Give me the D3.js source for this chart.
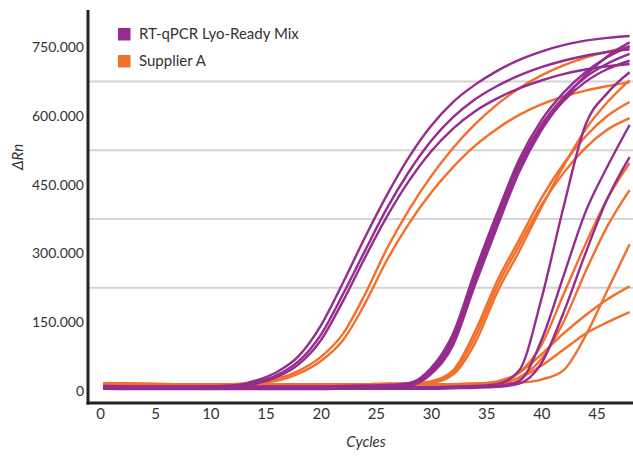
<!DOCTYPE html>
<html><head><meta charset="utf-8">
<script src="https://cdn.jsdelivr.net/npm/d3@7"></script>
<style>
html,body{margin:0;padding:0;background:#fff;}
svg{display:block;font-family:Lato,"Open Sans",sans-serif;}
</style></head>
<body><svg id="chart" width="633" height="458"></svg>
<script>
// cycles at which values are read (x)
const cycles = [0.3, 4, 8, 12, 14, 16, 18, 20, 22, 24, 26, 28, 30, 32, 34, 36, 38, 40, 42, 44, 46, 48];
const xTicks = [0, 5, 10, 15, 20, 25, 30, 35, 40, 45];
const yTicks = [0, 150, 300, 450, 600, 750];          // thousands
const gridValues = [225, 375, 525, 675];              // thousands
const seriesNames = ["RT-qPCR Lyo-Ready Mix", "Supplier A"];

// ΔRn values in thousands, one array per well
const lyoReady = [
  [10, 9, 9, 12, 22, 41, 76, 142, 235, 334, 427, 510, 578, 630, 668, 698, 722, 740, 754, 764, 770, 774],
  [8, 7, 7, 9, 18, 34, 65, 122, 210, 305, 398, 478, 545, 597, 636, 665, 688, 706, 720, 731, 739, 745],
  [6, 5, 5, 8, 15, 30, 58, 110, 195, 290, 380, 458, 522, 572, 610, 638, 660, 677, 691, 701, 708, 713],
  [11, 10, 10, 10, 10, 10, 10, 10, 11, 12, 13, 17, 50, 125, 262, 388, 505, 590, 650, 695, 728, 752],
  [9, 8, 8, 8, 8, 8, 8, 8, 9, 10, 11, 15, 44, 116, 252, 378, 495, 580, 640, 684, 714, 735],
  [7, 6, 6, 6, 6, 6, 6, 6, 7, 8, 9, 13, 40, 108, 242, 368, 485, 572, 632, 674, 702, 720],
  [5, 4, 4, 4, 4, 4, 4, 4, 5, 6, 7, 11, 37, 100, 232, 358, 478, 568, 635, 688, 730, 760],
  [10, 9, 9, 9, 9, 9, 9, 9, 9, 9, 9, 9, 9, 10, 11, 15, 45, 200, 400, 580, 650, 695],
  [8, 7, 7, 7, 7, 7, 7, 7, 7, 7, 7, 7, 7, 8, 9, 11, 22, 110, 250, 390, 490, 580],
  [6, 5, 5, 5, 5, 5, 5, 5, 5, 5, 5, 5, 5, 6, 7, 9, 16, 60, 170, 300, 420, 510]
];
const supplierA = [
  [17, 16, 15, 15, 18, 26, 44, 74, 124, 210, 310, 395, 468, 530, 582, 625, 660, 688, 710, 727, 740, 750],
  [17, 16, 15, 15, 17, 22, 38, 65, 110, 190, 285, 365, 432, 488, 535, 572, 602, 625, 642, 655, 665, 673],
  [16, 15, 15, 15, 15, 15, 15, 15, 15, 15, 16, 16, 21, 45, 130, 240, 330, 420, 495, 555, 600, 630],
  [16, 15, 15, 15, 15, 15, 15, 15, 15, 15, 16, 16, 19, 40, 118, 228, 318, 405, 475, 530, 570, 595],
  [16, 15, 15, 15, 15, 15, 15, 15, 15, 15, 15, 16, 18, 36, 105, 215, 305, 400, 490, 570, 630, 678],
  [16, 15, 15, 15, 15, 15, 15, 15, 15, 15, 15, 15, 15, 15, 16, 19, 40, 100, 210, 320, 420, 497],
  [16, 15, 15, 15, 15, 15, 15, 15, 15, 15, 15, 15, 15, 15, 16, 17, 30, 70, 150, 260, 360, 438],
  [16, 15, 15, 15, 15, 15, 15, 15, 15, 15, 15, 15, 15, 15, 15, 16, 18, 25, 45, 120, 220, 320],
  [16, 15, 15, 15, 15, 15, 15, 15, 15, 15, 15, 15, 15, 15, 16, 21, 40, 80, 125, 165, 200, 228],
  [16, 15, 15, 15, 15, 15, 15, 15, 15, 15, 15, 15, 15, 15, 15, 18, 28, 55, 90, 125, 150, 172]
];

const colors = {purple: "#952c8e", orange: "#f36f2a"};

const svg = d3.select("#chart");
const x = d3.scaleLinear().domain([0, 48]).range([100, 629.6]);
const y = d3.scaleLinear().domain([0, 750]).range([391, 47]);

// grid lines
svg.append("g").selectAll("line").data(gridValues).join("line")
  .attr("x1", 89).attr("x2", 633)
  .attr("y1", d => y(d)).attr("y2", d => y(d))
  .attr("stroke", "#d4d4d4").attr("stroke-width", 2);

// curves
const line = d3.line().x((d, i) => x(cycles[i])).y(d => y(d)).curve(d3.curveMonotoneX);
svg.append("g").selectAll("path").data(supplierA).join("path")
  .attr("d", line).attr("fill", "none").attr("stroke", colors.orange).attr("stroke-width", 2.4);
svg.append("g").selectAll("path").data(lyoReady).join("path")
  .attr("d", line).attr("fill", "none").attr("stroke", colors.purple).attr("stroke-width", 2.4);

// axes
const fmt = d => d === 0 ? "0" : d3.format(",")(d * 1000).replace(/,/g, ".");
const yAxis = svg.append("g").attr("transform", "translate(88,0)")
  .call(d3.axisLeft(y).tickValues(yTicks).tickSize(0).tickPadding(4).tickFormat(fmt));
yAxis.select(".domain").remove();
yAxis.selectAll("text").attr("font-size", 14).attr("fill", "#333").attr("font-family", "Lato, sans-serif");

const xAxis = svg.append("g").attr("transform", "translate(0,403)")
  .call(d3.axisBottom(x).tickValues(xTicks).tickSize(0).tickPadding(5));
xAxis.select(".domain").remove();
xAxis.selectAll("text").attr("font-size", 15).attr("fill", "#333").attr("font-family", "Lato, sans-serif");

svg.append("line").attr("x1", 88).attr("x2", 88).attr("y1", 10).attr("y2", 404.5)
  .attr("stroke", "#222").attr("stroke-width", 3);
svg.append("line").attr("x1", 86.5).attr("x2", 633).attr("y1", 403).attr("y2", 403)
  .attr("stroke", "#222").attr("stroke-width", 3);

// axis titles
svg.append("text").attr("x", 366).attr("y", 447).attr("text-anchor", "middle")
  .attr("font-size", 15).attr("font-style", "italic").attr("fill", "#333").text("Cycles");
svg.append("text").attr("transform", "translate(23,157) rotate(-90)").attr("text-anchor", "middle")
  .attr("font-size", 15).attr("font-style", "italic").attr("fill", "#333").text("ΔRn");

// legend
const legend = svg.append("g").selectAll("g").data(seriesNames).join("g")
  .attr("transform", (d, i) => `translate(118,${28 + i * 27})`);
legend.append("rect").attr("width", 12.5).attr("height", 12.5)
  .attr("fill", (d, i) => i === 0 ? colors.purple : colors.orange);
legend.append("text").attr("x", 21).attr("y", 11).attr("font-size", 15).attr("fill", "#333").text(d => d);
</script></body></html>
